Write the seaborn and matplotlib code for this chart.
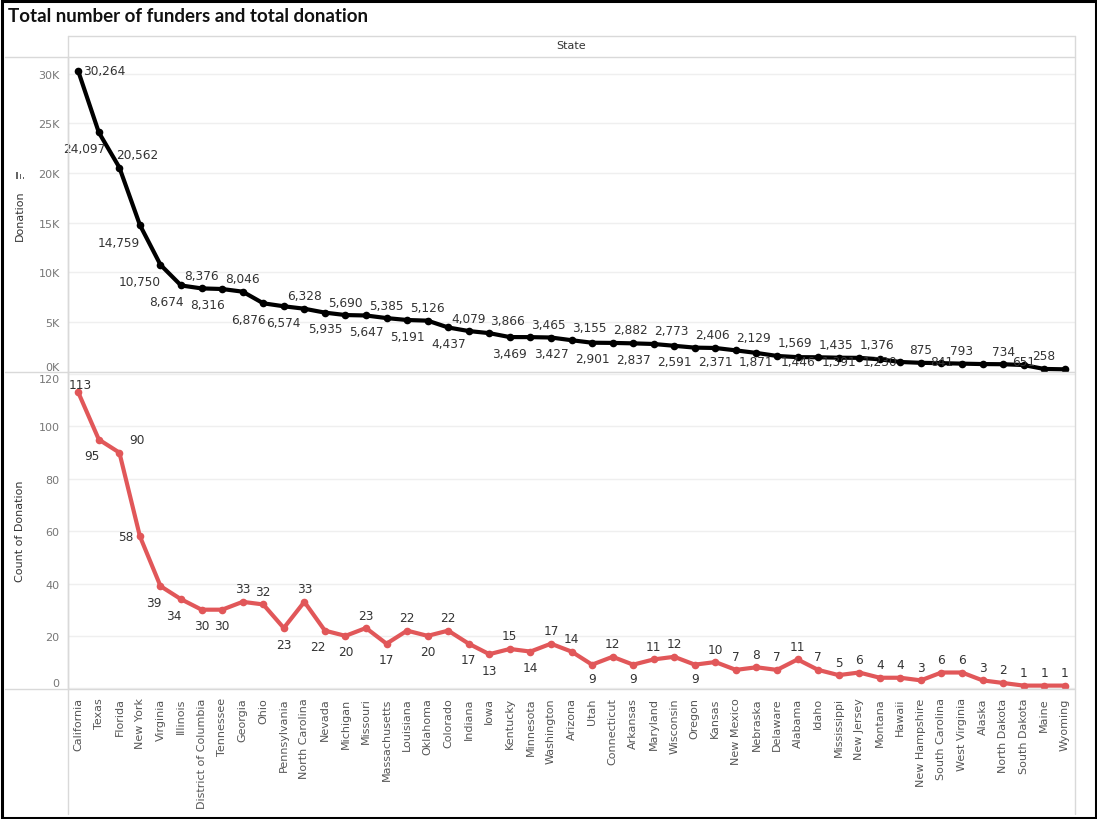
import numpy as np
import pandas as pd
import matplotlib
matplotlib.use("Agg")
import matplotlib.pyplot as plt
import seaborn as sns
from matplotlib.lines import Line2D
from matplotlib.patches import Rectangle
from matplotlib.ticker import FuncFormatter, FixedLocator

# ---------------- data ----------------
states = ["California", "Texas", "Florida", "New York", "Virginia", "Illinois",
          "District of Columbia", "Tennessee", "Georgia", "Ohio", "Pennsylvania",
          "North Carolina", "Nevada", "Michigan", "Missouri", "Massachusetts",
          "Louisiana", "Oklahoma", "Colorado", "Indiana", "Iowa", "Kentucky",
          "Minnesota", "Washington", "Arizona", "Utah", "Connecticut", "Arkansas",
          "Maryland", "Wisconsin", "Oregon", "Kansas", "New Mexico", "Nebraska",
          "Delaware", "Alabama", "Idaho", "Mississippi", "New Jersey", "Montana",
          "Hawaii", "New Hampshire", "South Carolina", "West Virginia", "Alaska",
          "North Dakota", "South Dakota", "Maine", "Wyoming"]

donation = [30264, 24097, 20562, 14759, 10750, 8674, 8376, 8316, 8046, 6876,
            6574, 6328, 5935, 5690, 5647, 5385, 5191, 5126, 4437, 4079,
            3866, 3469, 3465, 3427, 3155, 2901, 2882, 2837, 2773, 2591,
            2406, 2371, 2129, 1871, 1569, 1446, 1435, 1391, 1376, 1230,
            960, 875, 841, 793, 750, 734, 651, 258, 220]

count_donation = [113, 95, 90, 58, 39, 34, 30, 30, 33, 32,
                  23, 33, 22, 20, 23, 17, 22, 20, 22, 17,
                  13, 15, 14, 17, 14, 9, 12, 9, 11, 12,
                  9, 10, 7, 8, 7, 11, 7, 5, 6, 4,
                  4, 3, 6, 6, 3, 2, 1, 1, 1]

donation_ticks = [0, 5000, 10000, 15000, 20000, 25000, 30000]
count_ticks = [0, 20, 40, 60, 80, 100, 120]

# label placement codes (styling)
top_place = ["r", "bl", "ar", "bL", "bL", "bl", "a", "bl", "a", "bl",
             "b", "a", "b", "a", "b", "a", "b", "a", "b", "a",
             "ar", "b", "ar", "b", "ar", "b", "ar", "b", "ar", "b",
             "ar", "b", "ar", "b", "ar", "b", "ar", "b", "ar", "b",
             "n", "a", "b", "a", "n", "a", "b", "a", "n"]
bot_place = ["at", "bs", "ar", "l", "bs", "bs", "b", "b", "a", "a",
             "b", "a", "bs", "b", "a", "b", "a", "b", "a", "b",
             "b", "a", "b", "a", "a", "b", "a", "b", "a", "a",
             "b", "a", "a", "a", "a", "a", "a", "a", "a", "a",
             "a", "a", "a", "a", "a", "a", "a", "a", "a"]

offsets = {
    "a": (0, 13, "center"), "ar": (18, 13, "center"), "at": (2, 8, "center"),
    "b": (0, -16, "center"), "bl": (-15, -16, "center"), "bL": (-21, -17, "center"),
    "bs": (-7, -16, "center"),
    "r": (5, 1, "left"), "l": (-6, 0, "right"),
}

df = pd.DataFrame({"State": states, "Donation": donation, "Count": count_donation})

# ---------------- figure ----------------
sns.set_theme(style="white")
plt.rcParams["font.family"] = ["DejaVu Sans"]

W, H = 1097, 820
fig = plt.figure(figsize=(W / 100, H / 100), dpi=100)
fig.patch.set_facecolor("white")


def fx(px):
    return px / W


def fy(py):
    return 1 - py / H


L, R = 68, 1075
ax1 = fig.add_axes([fx(L), fy(373), fx(R) - fx(L), fy(58) - fy(373)])
ax2 = fig.add_axes([fx(L), fy(690), fx(R) - fx(L), fy(373) - fy(690)])
ax2.set_zorder(0)
ax1.set_zorder(1)

red = "#e15759"
sns.lineplot(data=df, x="State", y="Donation", ax=ax1, sort=False, color="black",
             lw=3.0, marker="o", markersize=5.5, markeredgewidth=0, zorder=3)
sns.lineplot(data=df, x="State", y="Count", ax=ax2, sort=False, color=red,
             lw=3.0, marker="o", markersize=5.5, markeredgewidth=0, zorder=3)

grid_c = "#efefef"
tick_c = "#777777"
for ax in (ax1, ax2):
    ax.set_xlim(-0.5, len(states) - 0.5)
    for s in ("top", "right", "bottom"):
        ax.spines[s].set_visible(False)
    ax.spines["left"].set_color("#d4d4d4")
    ax.spines["left"].set_linewidth(1)
    ax.yaxis.grid(True, color=grid_c, lw=1, zorder=0)
    ax.xaxis.grid(False)
    ax.tick_params(axis="y", length=0, pad=6, labelsize=8, labelcolor=tick_c)
    ax.set_xlabel("")
ax1.set_facecolor("none")
ax2.set_facecolor("white")

# top axis
ax1.set_ylim(-50, 31700)
ax1.yaxis.set_major_locator(FixedLocator(donation_ticks))
ax1.yaxis.set_major_formatter(FuncFormatter(lambda v, p: f"{v/1000:.0f}K"))
ax1.tick_params(axis="x", which="both", length=0, labelbottom=False)
ax1.set_ylabel("Donation", fontsize=8, color="#333333")
ax1.yaxis.set_label_coords((25 - L) / (R - L), 0.5)

# bottom axis
ax2.set_ylim(-0.3, 120.8)
ax2.yaxis.set_major_locator(FixedLocator(count_ticks))
ax2.set_ylabel("Count of Donation", fontsize=8, color="#333333")
ax2.yaxis.set_label_coords((25 - L) / (R - L), 0.5)
ax2.set_xticks(range(len(states)))
ax2.set_xticklabels(states, rotation=90, fontsize=8, color="#555555")
ax2.tick_params(axis="x", which="major", length=0, pad=6)
ax2.set_xticks(np.arange(len(states) + 1) - 0.5, minor=True)
ax2.tick_params(axis="x", which="minor", length=5, color="#e6e6e6", width=1)

fig.canvas.draw()
# shift edge tick labels inward like the reference
for lab in ax1.get_yticklabels():
    if lab.get_text() == "0K":
        lab.set_va("bottom")
for lab in ax2.get_yticklabels():
    if lab.get_text() == "120":
        lab.set_va("top")
    if lab.get_text() == "0":
        lab.set_va("bottom")


def put_labels(ax, values, places):
    bb = ax.get_window_extent()
    lo, hi = bb.y0 + 10, bb.y1 - 9
    inv = ax.transData.inverted()
    for i, (v, p) in enumerate(zip(values, places)):
        if p == "n":
            continue
        dx, dy, ha = offsets[p]
        px, py = ax.transData.transform((i, v))
        ty = min(max(py + dy, lo), hi)
        tx, tyd = inv.transform((px + dx, ty))
        ax.text(tx, tyd, f"{v:,}", ha=ha, va="center", fontsize=8.7,
                color="#333333", zorder=5, clip_on=False)


put_labels(ax1, donation, top_place)
put_labels(ax2, count_donation, bot_place)

# ---------------- frame / header lines ----------------
line_c = "#d9d9d9"


def hline(y, x0, x1, c=line_c, lw=1):
    fig.add_artist(Line2D([fx(x0), fx(x1)], [fy(y), fy(y)], color=c, lw=lw,
                          transform=fig.transFigure))


def vline(x, y0, y1, c=line_c, lw=1):
    fig.add_artist(Line2D([fx(x), fx(x)], [fy(y0), fy(y1)], color=c, lw=lw,
                          transform=fig.transFigure))


hline(37, L, R)
hline(58, 5, R)
hline(373, 5, R)
hline(690, 5, R)
vline(L, 37, 815)
vline(R, 37, 815)

# small sort icon next to the "Donation" axis title
for bx, bh in ((17, 7), (20.3, 5), (23.6, 2)):
    fig.add_artist(Rectangle((fx(bx - 0.7), fy(180)), fx(1.4), fy(180 - bh) - fy(180),
                             transform=fig.transFigure, facecolor="#666666",
                             edgecolor="none"))

fig.text(fx((L + R) / 2), fy(46), "State", ha="center", va="center",
         fontsize=8, color="#333333")

fig.text(fx(8), fy(17), "Total number of funders and total donation",
         ha="left", va="center", fontsize=13.5, fontweight="bold",
         family=["Lato", "DejaVu Sans"], color="#111111")

# outer black border of the screenshot
fig.add_artist(Rectangle((fx(1.5), fy(818.5)), fx(1094) - fx(0), fy(0) - fy(817),
                         transform=fig.transFigure, fill=False, edgecolor="black",
                         lw=2.2))

fig.savefig("out.png", dpi=100)
